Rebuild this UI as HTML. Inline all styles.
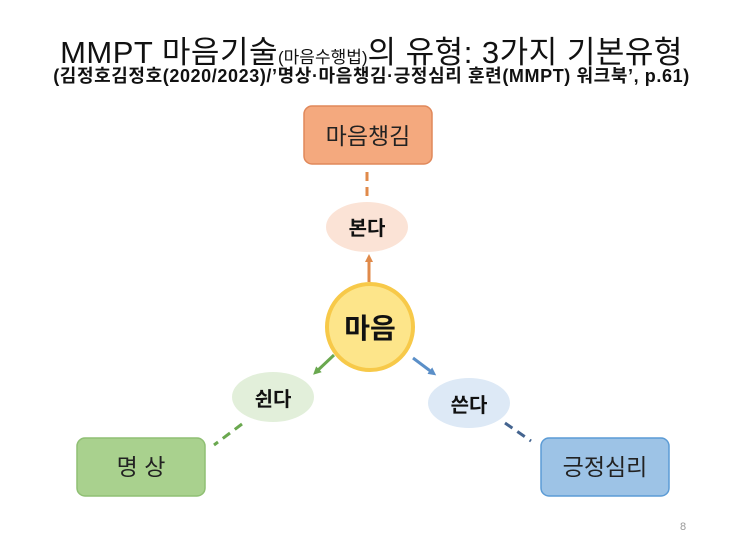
<!DOCTYPE html>
<html><head><meta charset="utf-8"><style>
body{margin:0;width:743px;height:544px;background:#fff;overflow:hidden;font-family:"Liberation Sans","Noto Sans CJK KR",sans-serif}
.t1{position:absolute;left:0;width:743px;top:27px;text-align:center;font-size:31px;color:#111;white-space:nowrap;letter-spacing:0.5px}
.t1 small{font-size:17px;letter-spacing:0}
.t2{position:absolute;left:0;width:743px;top:62px;text-align:center;font-size:18px;font-weight:bold;color:#111;white-space:nowrap;letter-spacing:0.6px}
</style></head><body>
<div class="t1">MMPT 마음기술<small>(마음수행법)</small>의 유형: 3가지 기본유형</div>
<div class="t2">(김정호김정호(2020/2023)/’명상·마음챙김·긍정심리 훈련(MMPT) 워크북’, p.61)</div>
<svg width="743" height="544" style="position:absolute;left:0;top:0" font-family="Liberation Sans, Noto Sans CJK KR, sans-serif">
<defs>
<marker id="ao" markerWidth="8" markerHeight="8" refX="4" refY="4" orient="auto" markerUnits="userSpaceOnUse"><path d="M0,0L8,4L0,8z" fill="#e08a4a"/></marker>
<marker id="ag" markerWidth="8" markerHeight="8" refX="4" refY="4" orient="auto" markerUnits="userSpaceOnUse"><path d="M0,0L8,4L0,8z" fill="#6aa84f"/></marker>
<marker id="ab" markerWidth="8" markerHeight="8" refX="4" refY="4" orient="auto" markerUnits="userSpaceOnUse"><path d="M0,0L8,4L0,8z" fill="#5b8fc8"/></marker>
</defs>
<rect x="304" y="106" width="128" height="58" rx="8" fill="#f4a97e" stroke="#e0885a" stroke-width="1.5"/>
<text x="368" y="144" text-anchor="middle" font-size="23" fill="#222">마음챙김</text>
<line x1="367" y1="172" x2="367" y2="201" stroke="#e08a4a" stroke-width="3" stroke-dasharray="9,6"/>
<ellipse cx="367" cy="227" rx="41" ry="25" fill="#fbe3d6"/>
<text x="367" y="235" text-anchor="middle" font-size="20" font-weight="bold" fill="#111">본다</text>
<line x1="369" y1="282" x2="369" y2="258" stroke="#e08a4a" stroke-width="3" marker-end="url(#ao)"/>
<circle cx="370" cy="327" r="43" fill="#fde58a" stroke="#f7c949" stroke-width="4"/>
<text x="370" y="338" text-anchor="middle" font-size="28" font-weight="bold" fill="#111">마음</text>
<line x1="334" y1="355" x2="316" y2="372" stroke="#6aa84f" stroke-width="3" marker-end="url(#ag)"/>
<line x1="413" y1="358" x2="433" y2="373" stroke="#5b8fc8" stroke-width="3" marker-end="url(#ab)"/>
<ellipse cx="273" cy="397" rx="41" ry="25" fill="#e2efda"/>
<text x="273" y="406" text-anchor="middle" font-size="20" font-weight="bold" fill="#111">쉰다</text>
<ellipse cx="469" cy="403" rx="41" ry="25" fill="#dde9f6"/>
<text x="469" y="412" text-anchor="middle" font-size="20" font-weight="bold" fill="#111">쓴다</text>
<line x1="242" y1="424" x2="214" y2="445" stroke="#6aa84f" stroke-width="3" stroke-dasharray="9,6"/>
<line x1="505" y1="423" x2="531" y2="441" stroke="#44648f" stroke-width="3" stroke-dasharray="9,6"/>
<rect x="77" y="438" width="128" height="58" rx="8" fill="#a9d18e" stroke="#8fbf73" stroke-width="1.5"/>
<text x="141" y="475" text-anchor="middle" font-size="23" fill="#222">명 상</text>
<rect x="541" y="438" width="128" height="58" rx="8" fill="#9dc3e6" stroke="#5b9bd5" stroke-width="1.5"/>
<text x="605" y="475" text-anchor="middle" font-size="23" fill="#222">긍정심리</text>
<text x="680" y="530" font-size="11" fill="#999">8</text>
</svg>
</body></html>
